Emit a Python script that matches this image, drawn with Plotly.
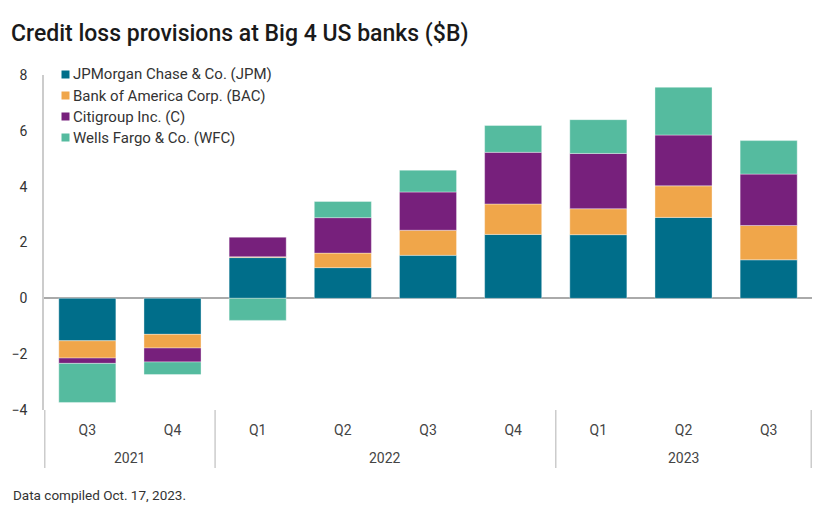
import plotly.graph_objects as go

quarters = ["Q3", "Q4", "Q1", "Q2", "Q3", "Q4", "Q1", "Q2", "Q3"]
years = ["2021", "2021", "2022", "2022", "2022", "2022", "2023", "2023", "2023"]
categories = [f"{y} {q}" for y, q in zip(years, quarters)]

jpm = [-1.52, -1.29, 1.46, 1.10, 1.54, 2.29, 2.28, 2.90, 1.38]
bac = [-0.62, -0.49, 0.03, 0.52, 0.90, 1.09, 0.93, 1.13, 1.23]
citi = [-0.19, -0.50, 0.70, 1.27, 1.37, 1.85, 1.98, 1.82, 1.84]
wfc = [-1.40, -0.45, -0.79, 0.58, 0.78, 0.96, 1.21, 1.71, 1.20]

series = [
    ("JPMorgan Chase & Co. (JPM)", jpm, "#006E8A"),
    ("Bank of America Corp. (BAC)", bac, "#F0A64A"),
    ("Citigroup Inc. (C)", citi, "#77207C"),
    ("Wells Fargo & Co. (WFC)", wfc, "#55BB9F"),
]

year_groups = [("2021", 0, 1), ("2022", 2, 5), ("2023", 6, 8)]
y_ticks = [-4, -2, 0, 2, 4, 6, 8]

FONT = "Roboto"
W, H = 813, 509
ML, MR, MT, MB = 44, 1, 75, 99
PW, PH = W - ML - MR, H - MT - MB


def px_x(px):
    return (px - ML) / PW


def px_y(py):
    return (H - MB - py) / PH


fig = go.Figure()
for name, vals, color in series:
    fig.add_trace(go.Bar(
        x=categories, y=vals, name=name, showlegend=False,
        marker=dict(color=color, line=dict(color="rgba(255,255,255,0.6)", width=0.6)),
    ))

fig.update_layout(
    barmode="relative",
    bargap=0.33,
    width=W, height=H,
    margin=dict(l=ML, r=MR, t=MT, b=MB),
    paper_bgcolor="white", plot_bgcolor="white",
    font=dict(family=FONT, size=13, color="#333333"),
    title=dict(text="Credit loss provisions at Big 4 US banks ($B)",
               x=11 / W, xanchor="left", y=1 - 33 / H, yanchor="middle",
               font=dict(family=FONT, size=23, color="#1a1a1a", weight=500)),
)

fig.update_xaxes(
    type="category", tickvals=categories, ticktext=quarters,
    showgrid=False, showline=False, ticks="", ticklen=0,
    ticklabelstandoff=10,
    tickfont=dict(size=14, color="#444444"),
)
fig.update_yaxes(
    range=[-4, 8], tickvals=y_ticks, showgrid=False,
    showline=True, linecolor="#cccccc", linewidth=1.5,
    zeroline=True, zerolinecolor="#aaaaaa", zerolinewidth=1.5,
    ticks="", ticklabelstandoff=12,
    tickfont=dict(size=14, color="#333333"),
)

# custom legend (square swatch + label)
legend_rows_px = [74.5, 95.5, 116.5, 137.5]
for (name, _, color), cy in zip(series, legend_rows_px):
    fig.add_shape(type="rect", xref="paper", yref="paper",
                  x0=px_x(61.5), x1=px_x(69.5), y0=px_y(cy + 4), y1=px_y(cy - 4),
                  fillcolor=color, line=dict(width=0), layer="above")
    fig.add_annotation(x=px_x(71), y=px_y(cy), xref="paper", yref="paper",
                       xanchor="left", yanchor="middle", text=name, showarrow=False,
                       font=dict(size=15, color="#333333"))

# year labels and dividers below the axis
for yr, i0, i1 in year_groups:
    fig.add_annotation(x=(i0 + i1) / 2, y=px_y(458), xref="x", yref="paper",
                       text=yr, showarrow=False, yanchor="middle",
                       font=dict(size=14, color="#444444"))
for pos in [-0.5, 1.5, 5.5, 8.5]:
    fig.add_shape(type="line", xref="x", yref="paper", x0=pos, x1=pos,
                  y0=px_y(410), y1=px_y(468), line=dict(color="#cccccc", width=1.5))

fig.add_annotation(x=px_x(11), xref="paper", xanchor="left",
                   y=px_y(495), yref="paper", yanchor="middle",
                   text="Data compiled Oct. 17, 2023.", showarrow=False,
                   font=dict(size=13.5, color="#333333"))

fig.write_html("out.html", config={"displayModeBar": False})

with open("out.html", "r", encoding="utf-8") as f:
    html = f.read()
html = html.replace("<body>", "<body style=\"margin:0;padding:0;\">", 1)
with open("out.html", "w", encoding="utf-8") as f:
    f.write(html)
